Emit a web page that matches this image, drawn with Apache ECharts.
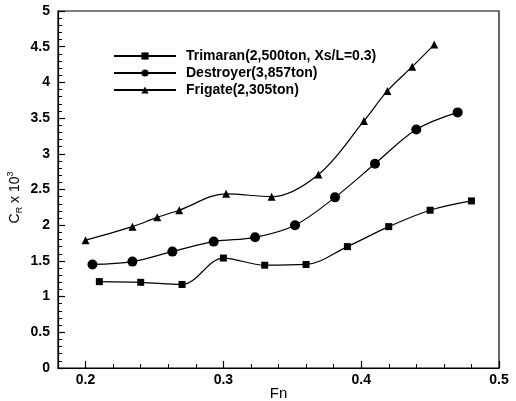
<!DOCTYPE html>
<html>
<head>
<meta charset="utf-8">
<script src="https://cdn.jsdelivr.net/npm/echarts@6/dist/echarts.min.js"></script>
<style>html,body{margin:0;padding:0;background:#fff;}#c{width:516px;height:401px;}</style>
</head>
<body>
<div id="c"></div>
<script>
const seriesNames = ['Trimaran(2,500ton, Xs/L=0.3)', 'Destroyer(3,857ton)', 'Frigate(2,305ton)'];
const fnTrimaran = [0.21, 0.24, 0.27, 0.30, 0.33, 0.36, 0.39, 0.42, 0.45, 0.48];
const crTrimaran = [1.21, 1.20, 1.17, 1.54, 1.44, 1.45, 1.70, 1.98, 2.21, 2.34];
const fnDestroyer = [0.205, 0.234, 0.263, 0.293, 0.323, 0.352, 0.381, 0.410, 0.440, 0.470];
const crDestroyer = [1.45, 1.49, 1.63, 1.77, 1.83, 2.00, 2.39, 2.86, 3.34, 3.58];
const fnFrigate = [0.200, 0.234, 0.252, 0.268, 0.302, 0.335, 0.369, 0.402, 0.419, 0.437, 0.453];
const crFrigate = [1.79, 1.98, 2.11, 2.21, 2.44, 2.40, 2.71, 3.46, 3.88, 4.22, 4.53];
const xMajorTicks = [0.2, 0.3, 0.4, 0.5];
const xMinorTicks = [0.22, 0.24, 0.26, 0.28, 0.32, 0.34, 0.36, 0.38, 0.42, 0.44, 0.46, 0.48];

const zip = (a, b) => a.map((v, i) => [v, b[i]]);
const font = 'Liberation Sans, Arial, sans-serif';

const chart = echarts.init(document.getElementById('c'), null, {renderer: 'canvas'});
const baseSeries = (name, xs, ys, symbol, size) => ({
  name, type: 'line', data: zip(xs, ys), smooth: 0.35,
  symbol, symbolSize: size, xAxisIndex: 0,
  lineStyle: {color: '#000', width: 1.2},
  itemStyle: {color: '#000'},
  emphasis: {disabled: true}
});
chart.setOption({
  animation: false,
  grid: {left: 58, right: 17, top: 11, bottom: 33, containLabel: false, outerBoundsMode: 'none',
         show: true, borderColor: '#000', borderWidth: 1.2},
  legend: {
    orient: 'vertical', left: 113, top: 49, padding: 0, itemWidth: 62, itemHeight: 9, itemGap: 3,
    data: seriesNames,
    textStyle: {fontFamily: font, fontSize: 14, fontWeight: 'bold', color: '#000', padding: [0, 0, 0, 5]}
  },
  xAxis: [{
    type: 'value', min: 0.18, max: 0.5,
    name: 'Fn', nameLocation: 'middle', nameGap: 18, nameMoveOverlap: false,
    nameTextStyle: {fontFamily: font, fontSize: 15, color: '#000'},
    axisLine: {lineStyle: {color: '#000', width: 1.2}},
    axisTick: {inside: true, length: 7, customValues: xMajorTicks, lineStyle: {color: '#000', width: 1.2}},
    axisLabel: {customValues: xMajorTicks, margin: 5, fontFamily: font, fontSize: 14, color: '#000', fontWeight: 'bold'},
    splitLine: {show: false}
  }, {
    type: 'value', min: 0.18, max: 0.5, position: 'bottom',
    axisLine: {show: false},
    axisTick: {inside: true, length: 4, customValues: xMinorTicks, lineStyle: {color: '#000', width: 1}},
    axisLabel: {show: false},
    splitLine: {show: false}
  }],
  yAxis: {
    type: 'value', min: 0, max: 5, interval: 0.5,
    name: '{a|C}{s|R}{a| x 10}{p|3}', nameLocation: 'middle', nameGap: 34, nameMoveOverlap: false,
    nameTextStyle: {
      fontFamily: font, fontSize: 14, color: '#000', padding: [0, 16, 0, 0],
      rich: {
        a: {fontFamily: font, fontSize: 14, color: '#000', lineHeight: 18, verticalAlign: 'middle'},
        s: {fontFamily: font, fontSize: 9, color: '#000', lineHeight: 18, verticalAlign: 'bottom', padding: [6, 0, 0, 0]},
        p: {fontFamily: font, fontSize: 9, color: '#000', lineHeight: 18, verticalAlign: 'top', padding: [0, 0, 6, 0]}
      }
    },
    axisLine: {show: true, lineStyle: {color: '#000', width: 1.2}},
    axisTick: {inside: true, length: 7, lineStyle: {color: '#000', width: 1.2}},
    minorTick: {show: true, splitNumber: 5, length: 4, lineStyle: {color: '#000', width: 1}},
    axisLabel: {margin: 8, fontFamily: font, fontSize: 14, color: '#000', fontWeight: 'bold'},
    splitLine: {show: false}
  },
  series: [
    baseSeries(seriesNames[0], fnTrimaran, crTrimaran, 'rect', 7),
    baseSeries(seriesNames[1], fnDestroyer, crDestroyer, 'circle', 10),
    baseSeries(seriesNames[2], fnFrigate, crFrigate, 'triangle', 8)
  ]
});
</script>
</body>
</html>
